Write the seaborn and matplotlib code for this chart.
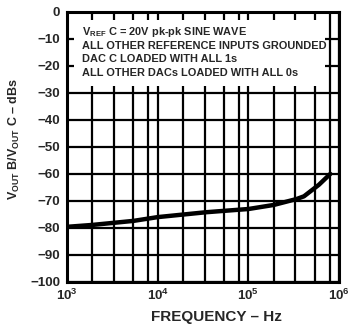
import numpy as np
import pandas as pd
import matplotlib
matplotlib.use("Agg")
import matplotlib.pyplot as plt
from matplotlib.ticker import FixedLocator, FixedFormatter, NullFormatter
from matplotlib.patches import Rectangle
import seaborn as sns

# data
freq_hz = [1e3, 1.9e3, 5.4e3, 1e4, 3.4e4, 5.3e4, 1e5, 1.9e5, 3.4e5, 4.1e5, 6.0e5, 8.0e5]
crosstalk_db = [-79.6, -78.9, -77.4, -76.0, -74.2, -73.7, -73.0, -71.5, -69.3, -68.3, -64.0, -60.0]
y_ticks = [0, -10, -20, -30, -40, -50, -60, -70, -80, -90, -100]
x_ticks = [1e3, 1e4, 1e5, 1e6]
x_tick_labels = ["10$^{3}$", "10$^{4}$", "10$^{5}$", "10$^{6}$"]
minor_mults = [1.9, 3.3, 5.4, 7.9]
notes = [
    r"V$_{\mathrm{REF}}$ C = 20V pk-pk SINE WAVE",
    "ALL OTHER REFERENCE INPUTS GROUNDED",
    "DAC C LOADED WITH ALL 1s",
    "ALL OTHER DACs LOADED WITH ALL 0s",
]

sns.set_style("white")
plt.rcParams["font.family"] = ["Liberation Sans", "DejaVu Sans"]
plt.rcParams["font.weight"] = "bold"
plt.rcParams["mathtext.fontset"] = "custom"
plt.rcParams["mathtext.rm"] = "Liberation Sans:bold"
plt.rcParams["mathtext.it"] = "Liberation Sans:bold"
plt.rcParams["mathtext.bf"] = "Liberation Sans:bold"

df = pd.DataFrame({"freq": freq_hz, "db": crosstalk_db})

fig = plt.figure(figsize=(3.51, 3.24), dpi=100)
ax = fig.add_axes([0.191, 0.130, 0.775, 0.833])
sns.lineplot(data=df, x="freq", y="db", ax=ax, color="black", linewidth=3.2, zorder=3)

ax.set_xscale("log")
ax.set_xlim(1e3, 1e6)
ax.set_ylim(-100, 0)
ax.set_yticks(y_ticks)
ax.set_yticklabels([("\u2212%d" % -v) if v < 0 else "0" for v in y_ticks])
ax.xaxis.set_major_locator(FixedLocator(x_ticks))
ax.xaxis.set_major_formatter(FixedFormatter(x_tick_labels))
minors = [d * m for d in [1e3, 1e4, 1e5] for m in minor_mults]
ax.xaxis.set_minor_locator(FixedLocator(minors))
ax.xaxis.set_minor_formatter(NullFormatter())

ax.set_axisbelow(True)
ax.grid(which="both", axis="x", color="black", linewidth=1.6)
ax.grid(which="major", axis="y", color="black", linewidth=1.6)
ax.tick_params(which="both", length=0, labelsize=9.6)
ax.tick_params(axis="y", pad=5)
ax.tick_params(axis="x", pad=4)
for lab in ax.get_xticklabels() + ax.get_yticklabels():
    lab.set_fontweight("bold")
for sp in ax.spines.values():
    sp.set_visible(True)
    sp.set_color("black")
    sp.set_linewidth(2.2)

# white note box over the grid
ax.add_patch(Rectangle((0.025, 0.725), 0.925, 0.245, transform=ax.transAxes,
                       facecolor="white", edgecolor="none", zorder=1))
for i, t in enumerate(notes):
    ax.text(0.055, 0.926 - i * 0.051, t, transform=ax.transAxes, fontsize=7.9,
            fontweight="bold", va="center", ha="left", zorder=4)

ax.set_xlabel("FREQUENCY \u2013 Hz", fontsize=11, fontweight="bold")
ax.set_ylabel("V$_{\\mathrm{OUT}}$ B/V$_{\\mathrm{OUT}}$ C \u2013 dBs",
              fontsize=9, fontweight="bold")
ax.xaxis.set_label_coords(0.55, -0.105)
ax.yaxis.set_label_coords(-0.195, 0.53)
ax.xaxis.label.set_va("top")
ax.yaxis.label.set_va("center")

fig.savefig("out.png", dpi=100)
